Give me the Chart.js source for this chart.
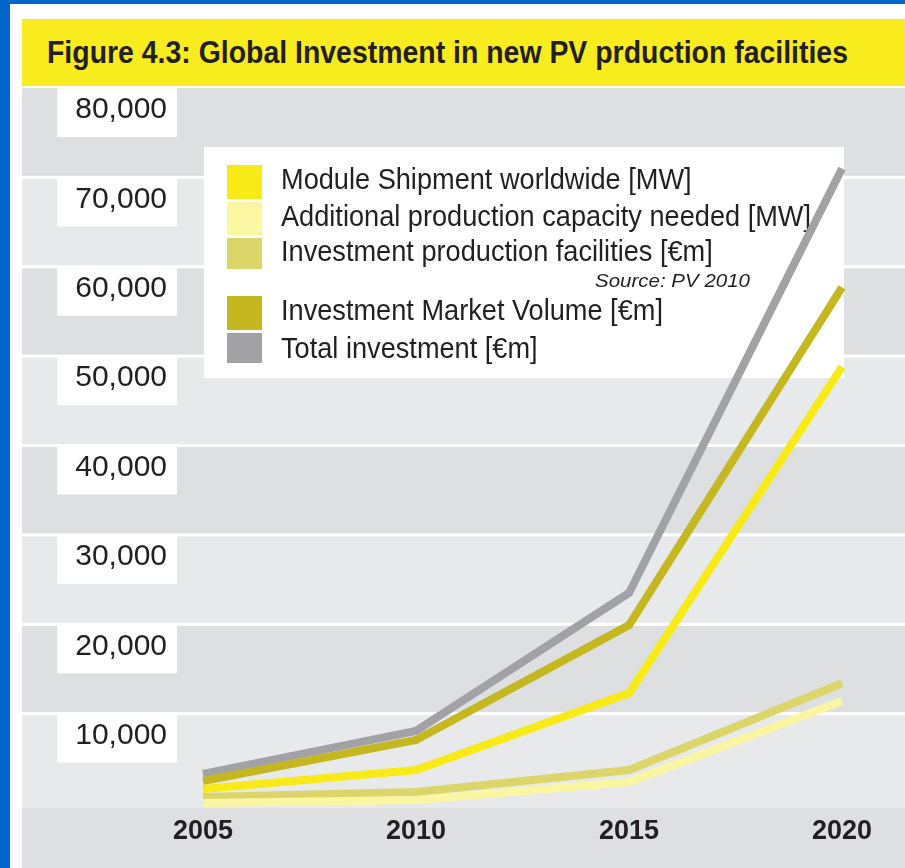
<!DOCTYPE html>
<html><head><meta charset="utf-8">
<script src="https://cdn.jsdelivr.net/npm/chart.js@4.4.1/dist/chart.umd.min.js"></script>
<style>
html,body{margin:0;padding:0;background:#fff;width:905px;height:868px;overflow:hidden;}
#wrap{position:relative;width:905px;height:868px;}
canvas{position:absolute;left:0;top:0;}
#title{position:absolute;left:22px;top:19px;width:883px;height:67px;background:#F8EC1F;overflow:hidden;}
#tt{position:absolute;left:25px;top:18px;font:bold 31px 'Liberation Sans',Arial,sans-serif;line-height:31px;color:#231F20;white-space:nowrap;transform-origin:0 0;}
</style></head><body>
<div id="wrap"><canvas id="c" width="905" height="868"></canvas><div id="title"><span id="tt"></span></div></div>
<script>
// ---- data ----
const titleText = 'Figure 4.3: Global Investment in new PV prduction facilities';
const years = ['2005', '2010', '2015', '2020'];
const moduleShipment = [1570, 3690, 12300, 48800];
const additionalCapacity = [0, 340, 2350, 11400];
const investmentFacilities = [670, 1230, 3690, 13400];
const investmentMarket = [2460, 7050, 19900, 57700];
const totalInvestment = [3250, 8060, 23500, 71000];
const seriesLabels = [
  'Module Shipment worldwide [MW]',
  'Additional production capacity needed [MW]',
  'Investment production facilities [€m]',
  'Investment Market Volume [€m]',
  'Total investment [€m]'
];
const yTicks = [10000, 20000, 30000, 40000, 50000, 60000, 70000, 80000];
const yTickLabels = ['10,000', '20,000', '30,000', '40,000', '50,000', '60,000', '70,000', '80,000'];
const sourceNote = 'Source: PV 2010';

// ---- styles ----
const BLUE = '#0066CC', DARK = '#DEDFE1', LIGHT = '#E8E9EB', TXT = '#231F20';
const colors = ['#F7EA16', '#FAF6A2', '#DCD56A', '#C5B720', '#A2A1A5'];
const FONT = "'Liberation Sans', Arial, sans-serif";

// title (HTML text)
const tt = document.getElementById('tt');
tt.textContent = titleText;
const tw = tt.getBoundingClientRect().width;
tt.style.transform = 'scaleX(' + (801 / tw) + ')';

const bgPlugin = {
  id: 'bg',
  beforeDraw(chart) {
    const {ctx, chartArea, scales: {y}} = chart;
    const W = chart.width, H = chart.height, L = 22;
    ctx.save();
    ctx.fillStyle = '#fff'; ctx.fillRect(0, 0, W, H);
    ctx.fillStyle = BLUE; ctx.fillRect(0, 0, 10, H); ctx.fillRect(0, 0, W, 4);
    const desc = yTicks.slice().sort((a, b) => b - a);
    const bottomEdge = chartArea.bottom + 5;
    desc.forEach((v, i) => {
      const top = y.getPixelForValue(v);
      const bot = i + 1 < desc.length ? y.getPixelForValue(desc[i + 1]) : bottomEdge;
      ctx.fillStyle = i % 2 === 0 ? DARK : LIGHT;
      ctx.fillRect(L, top, W - L, bot - top);
    });
    ctx.fillStyle = DARK; ctx.fillRect(L, bottomEdge, W - L, H - bottomEdge);
    ctx.fillStyle = '#fff';
    desc.forEach(v => {
      if (v < y.max) { const p = y.getPixelForValue(v); ctx.fillRect(L, p - 1.5, W - L, 3); }
    });
    ctx.restore();
  }
};

const legendPlugin = {
  id: 'boxLegend',
  beforeDatasetsDraw(chart) {
    const ctx = chart.ctx;
    ctx.save();
    ctx.fillStyle = '#fff';
    ctx.fillRect(204, 147, 640, 231);
    const tops = [165, 202, 238, 296, 333];
    const hs = [34, 33, 31, 34, 30];
    const bases = [189, 226, 261, 320, 358];
    ctx.font = '29px ' + FONT;
    const sx = 530 / ctx.measureText(chart.data.datasets[1].label).width;
    chart.data.datasets.forEach((ds, i) => {
      ctx.fillStyle = ds.borderColor;
      ctx.fillRect(227, tops[i], 35, hs[i]);
      ctx.save();
      ctx.translate(281, bases[i]);
      ctx.scale(sx, 1);
      ctx.fillStyle = TXT;
      ctx.textBaseline = 'alphabetic';
      ctx.textAlign = 'left';
      ctx.fillText(ds.label, 0, 0);
      ctx.restore();
    });
    ctx.font = 'italic 19px ' + FONT;
    const sw = ctx.measureText(sourceNote).width;
    ctx.save();
    ctx.translate(750, 287);
    ctx.scale(155 / sw, 1);
    ctx.fillStyle = TXT;
    ctx.textAlign = 'right';
    ctx.fillText(sourceNote, 0, 0);
    ctx.restore();
    ctx.restore();
  }
};

const series = [moduleShipment, additionalCapacity, investmentFacilities, investmentMarket, totalInvestment];

new Chart(document.getElementById('c'), {
  type: 'line',
  data: {
    labels: years,
    datasets: series.map((d, i) => ({
      label: seriesLabels[i],
      data: d,
      borderColor: colors[i],
      backgroundColor: colors[i],
      borderWidth: 8,
      pointRadius: 0,
      tension: 0,
      fill: false,
      clip: false
    }))
  },
  options: {
    responsive: false,
    animation: false,
    devicePixelRatio: 1,
    layout: {padding: {top: 88, right: 63, left: 0, bottom: 0}},
    plugins: {legend: {display: false}, tooltip: {enabled: false}, title: {display: false}},
    scales: {
      x: {
        type: 'category',
        offset: false,
        grid: {display: false, drawTicks: false},
        border: {display: false},
        ticks: {font: {family: FONT, size: 27, weight: 'bold'}, color: TXT, padding: 12, maxRotation: 0, autoSkip: false},
        afterFit(s) { s.height = 65; }
      },
      y: {
        type: 'linear',
        min: 0, max: 80000,
        grid: {display: false, drawTicks: false},
        border: {display: false},
        afterBuildTicks(s) { s.ticks = yTicks.map(v => ({value: v})); },
        ticks: {
          font: {family: FONT, size: 30}, color: TXT,
          padding: 36, labelOffset: 22,
          showLabelBackdrop: true, backdropColor: '#fff',
          backdropPadding: {top: 4, bottom: 9, left: 18, right: 10},
          callback: (v) => yTickLabels[yTicks.indexOf(v)]
        },
        afterFit(s) { s.width = 203; }
      }
    }
  },
  plugins: [bgPlugin, legendPlugin]
});
</script>
</body></html>
